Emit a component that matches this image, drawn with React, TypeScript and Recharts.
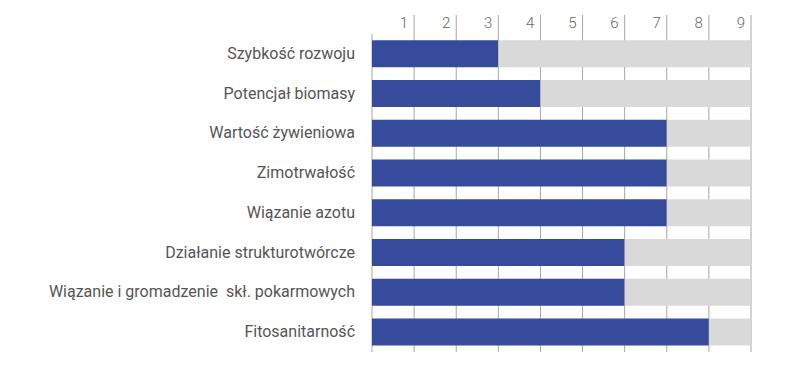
import React from "react";
import { BarChart, Bar, XAxis, YAxis, CartesianGrid } from "recharts";

// Cechy i oceny (skala 1-9)
const categories = [
  "Szybkość rozwoju",
  "Potencjał biomasy",
  "Wartość żywieniowa",
  "Zimotrwałość",
  "Wiązanie azotu",
  "Działanie strukturotwórcze",
  "Wiązanie i gromadzenie  skł. pokarmowych",
  "Fitosanitarność",
];
const scores = [3, 4, 7, 7, 7, 6, 6, 8];
const scaleMax = 9;
const scaleTicks = [1, 2, 3, 4, 5, 6, 7, 8, 9];

const colors = {
  bar: "#364b9b",
  rest: "#d9d9d9",
  grid: "#a6a6a6",
  label: "#555555",
  tick: "#666666",
};

const chartData = categories.map((name, i) => ({
  name,
  score: scores[i],
  rest: scaleMax - scores[i],
}));

function TopTick(props: any) {
  const { x, y, payload } = props;
  return (
    <text
      x={x - 6}
      y={y + 15}
      textAnchor="end"
      fill={colors.tick}
      fontSize={15}
      fontFamily="Roboto, sans-serif"
      fontWeight={300}
    >
      {payload.value}
    </text>
  );
}

// keeps the double space inside the label
function LeftTick(props: any) {
  const { x, y, payload } = props;
  return (
    <text
      x={x}
      y={y}
      dy={5}
      textAnchor="end"
      fill={colors.label}
      fontSize={16}
      fontFamily="Roboto, sans-serif"
      style={{ whiteSpace: "pre" }}
    >
      {payload.value}
    </text>
  );
}

export default function App() {
  return (
    <div style={{ position: "absolute", left: 0, top: 0, width: 800, height: 370, background: "#fff" }}>
      <BarChart
        width={800}
        height={370}
        data={chartData}
        layout="vertical"
        margin={{ top: 0, right: 49, left: 0, bottom: 0 }}
        barCategoryGap="16%"
      >
        <CartesianGrid horizontal={false} vertical stroke={colors.grid} />
        <XAxis
          type="number"
          orientation="top"
          domain={[0, scaleMax]}
          ticks={scaleTicks}
          height={34}
          axisLine={false}
          tickSize={19}
          tickLine={{ stroke: colors.grid }}
          tick={<TopTick />}
          interval={0}
        />
        <XAxis
          xAxisId="bottom"
          type="number"
          orientation="bottom"
          domain={[0, scaleMax]}
          ticks={scaleTicks}
          height={18}
          axisLine={false}
          tickSize={4}
          tickLine={{ stroke: colors.grid }}
          tick={false}
          interval={0}
        />
        <YAxis
          type="category"
          dataKey="name"
          width={372}
          axisLine={false}
          tickLine={false}
          tickSize={0}
          tickMargin={17}
          interval={0}
          tick={<LeftTick />}
        />
        <Bar dataKey="score" stackId="a" fill={colors.bar} isAnimationActive={false} />
        <Bar dataKey="rest" stackId="a" fill={colors.rest} isAnimationActive={false} />
      </BarChart>
    </div>
  );
}
